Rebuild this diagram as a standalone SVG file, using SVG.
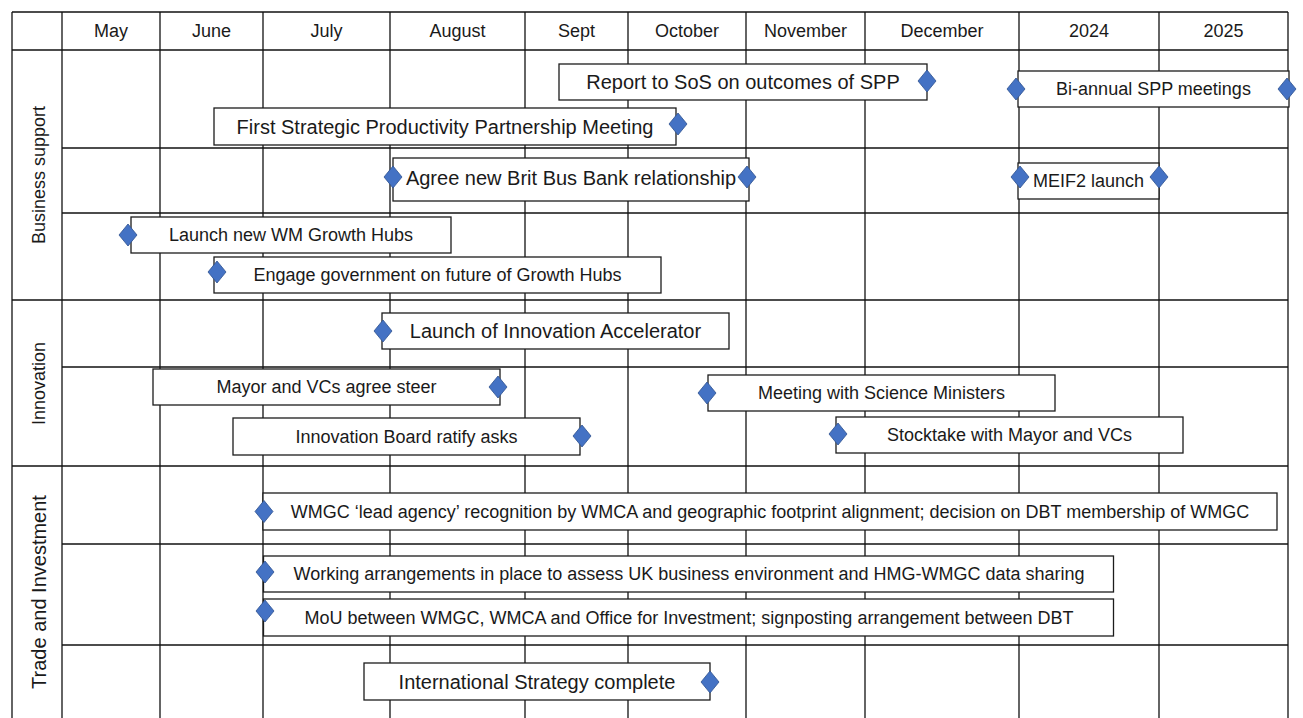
<svg xmlns="http://www.w3.org/2000/svg" xmlns:xlink="http://www.w3.org/1999/xlink" width="1303" height="718" viewBox="0 0 1303 718">
<style>
.g line{stroke:#111;stroke-width:1.3}
.box{fill:#fff;stroke:#1c1c1c;stroke-width:1.3}
.ms{fill:#4472C4;stroke:#2F528F;stroke-width:0.8}
text{font-family:"Liberation Sans",Arial,sans-serif;fill:#1a1a1a;text-anchor:middle}
.t20{font-size:20px}
.t18{font-size:18px}
</style>
<defs>
<path id="dm" class="ms" d="M0,-11 L9,0 L0,11 L-9,0 Z"/>
</defs>
<rect x="0" y="0" width="1303" height="718" fill="#fff"/>
<g id="grid" class="g">
<line x1="12" y1="12" x2="1288" y2="12"/>
<line x1="12" y1="50" x2="1288" y2="50"/>
<line x1="12" y1="300" x2="1288" y2="300"/>
<line x1="12" y1="466" x2="1288" y2="466"/>
<line x1="62" y1="148" x2="1288" y2="148"/>
<line x1="62" y1="213" x2="1288" y2="213"/>
<line x1="62" y1="367" x2="1288" y2="367"/>
<line x1="62" y1="544" x2="1288" y2="544"/>
<line x1="62" y1="645" x2="1288" y2="645"/>
<line x1="12" y1="12" x2="12" y2="718"/>
<line x1="62" y1="12" x2="62" y2="718"/>
<line x1="160" y1="12" x2="160" y2="718"/>
<line x1="263" y1="12" x2="263" y2="718"/>
<line x1="390" y1="12" x2="390" y2="718"/>
<line x1="525" y1="12" x2="525" y2="718"/>
<line x1="628" y1="12" x2="628" y2="718"/>
<line x1="746" y1="12" x2="746" y2="718"/>
<line x1="865" y1="12" x2="865" y2="718"/>
<line x1="1019" y1="12" x2="1019" y2="718"/>
<line x1="1159" y1="12" x2="1159" y2="718"/>
<line x1="1288" y1="12" x2="1288" y2="718"/>
</g>
<g id="headers" class="t18">
<text x="111" y="37">May</text>
<text x="211.5" y="37">June</text>
<text x="326.5" y="37">July</text>
<text x="457.5" y="37">August</text>
<text x="576.5" y="37">Sept</text>
<text x="687" y="37">October</text>
<text x="805.5" y="37">November</text>
<text x="942" y="37">December</text>
<text x="1089" y="37">2024</text>
<text x="1223.5" y="37">2025</text>
</g>
<g id="categories">
<text class="t18" transform="translate(39,175) rotate(-90)" y="6.3">Business support</text>
<text class="t18" transform="translate(39,383.5) rotate(-90)" y="6.3">Innovation</text>
<text class="t20" transform="translate(39,592) rotate(-90)" y="7">Trade and Investment</text>
</g>
<g id="connectors"/>
<g id="n-report"><rect class="box" x="559" y="64" width="368" height="36"/><text class="t20" x="743" y="89">Report to SoS on outcomes of SPP</text><use href="#dm" x="927" y="81"/></g>
<g id="n-spp1"><rect class="box" x="214" y="108" width="462" height="37"/><text class="t20" x="445" y="133.5">First Strategic Productivity Partnership Meeting</text><use href="#dm" x="678" y="124"/></g>
<g id="n-biannual"><rect class="box" x="1018" y="71" width="271" height="36"/><text class="t18" x="1153.5" y="95.3">Bi-annual SPP meetings</text><use href="#dm" x="1016" y="89"/><use href="#dm" x="1287" y="89"/></g>
<g id="n-bbb"><rect class="box" x="393" y="158" width="356" height="43"/><text class="t20" x="571" y="185">Agree new Brit Bus Bank relationship</text><use href="#dm" x="393" y="177"/><use href="#dm" x="747" y="177"/></g>
<g id="n-meif2"><rect class="box" x="1018" y="163" width="141" height="36"/><text class="t18" x="1088.5" y="187">MEIF2 launch</text><use href="#dm" x="1020" y="177"/><use href="#dm" x="1159" y="177"/></g>
<g id="n-wmhubs"><rect class="box" x="131" y="217" width="320" height="36"/><text class="t18" x="291" y="241.3">Launch new WM Growth Hubs</text><use href="#dm" x="128" y="235"/></g>
<g id="n-engage"><rect class="box" x="214" y="257" width="447" height="36"/><text class="t18" x="437.5" y="281.3">Engage government on future of Growth Hubs</text><use href="#dm" x="217" y="272"/></g>
<g id="n-innovacc"><rect class="box" x="382" y="313" width="347" height="36"/><text class="t20" x="555.5" y="338">Launch of Innovation Accelerator</text><use href="#dm" x="383" y="331"/></g>
<g id="n-mayor"><rect class="box" x="153" y="369" width="347" height="36"/><text class="t18" x="326.5" y="393.3">Mayor and VCs agree steer</text><use href="#dm" x="498" y="387"/></g>
<g id="n-board"><rect class="box" x="233" y="418" width="347" height="37"/><text class="t18" x="406.5" y="442.8">Innovation Board ratify asks</text><use href="#dm" x="582" y="436"/></g>
<g id="n-meeting"><rect class="box" x="708" y="375" width="347" height="36"/><text class="t18" x="881.5" y="399.3">Meeting with Science Ministers</text><use href="#dm" x="707" y="393"/></g>
<g id="n-stocktake"><rect class="box" x="836" y="417" width="347" height="36"/><text class="t18" x="1009.5" y="441.3">Stocktake with Mayor and VCs</text><use href="#dm" x="838" y="434"/></g>
<g id="n-wmgc"><rect class="box" x="263" y="493" width="1014" height="37"/><text class="t18" x="770" y="517.8">WMGC ‘lead agency’ recognition by WMCA and geographic footprint alignment; decision on DBT membership of WMGC</text><use href="#dm" x="264" y="511.5"/></g>
<g id="n-working"><rect class="box" x="263.5" y="556" width="850" height="36"/><text class="t18" x="689" y="580.3">Working arrangements in place to assess UK business environment and HMG-WMGC data sharing</text><use href="#dm" x="265" y="572"/></g>
<g id="n-mou"><rect class="box" x="263.5" y="599" width="850" height="37"/><text class="t18" x="689" y="623.8">MoU between WMGC, WMCA and Office for Investment; signposting arrangement between DBT</text><use href="#dm" x="265" y="611"/></g>
<g id="n-intl"><rect class="box" x="364" y="663" width="346" height="37"/><text class="t20" x="537" y="688.5">International Strategy complete</text><use href="#dm" x="710" y="682"/></g>
</svg>
